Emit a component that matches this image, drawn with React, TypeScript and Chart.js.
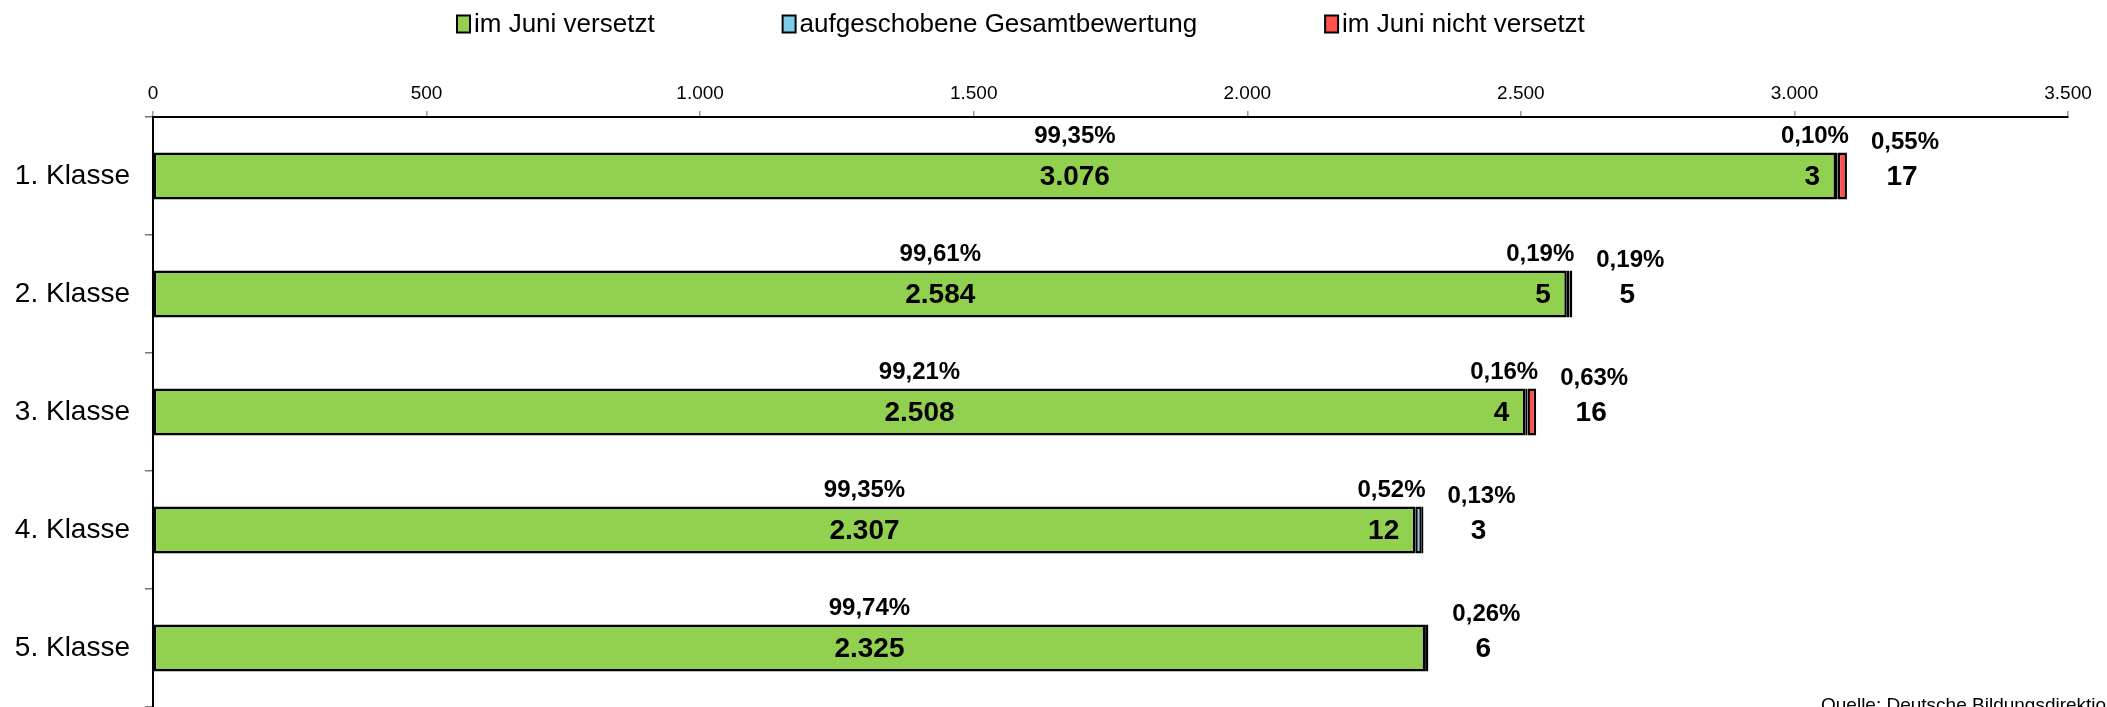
import { useEffect, useRef } from "react";
import { Chart, registerables } from "chart.js";

Chart.register(...registerables);

const categories = ["1. Klasse", "2. Klasse", "3. Klasse", "4. Klasse", "5. Klasse"];
const promoted = [3076, 2584, 2508, 2307, 2325];
const deferred = [3, 5, 4, 12, 0];
const notPromoted = [17, 5, 16, 3, 6];
const seriesNames = ["im Juni versetzt", "aufgeschobene Gesamtbewertung", "im Juni nicht versetzt"];
const xTicks = [0, 500, 1000, 1500, 2000, 2500, 3000, 3500];
const sourceText = "Quelle: Deutsche Bildungsdirektion";

const GREEN = "#92D050";
const BLUE = "#7ECBEA";
const RED = "#FF5050";
const FONT = "'Liberation Sans', Arial, Helvetica, sans-serif";

const fmtNum = (v: number) => String(v).replace(/\B(?=(\d{3})+(?!\d))/g, ".");
const fmtPct = (v: number) => (v * 100).toFixed(2).replace(".", ",") + "%";

const labelPlugin = {
  id: "barLabels",
  afterDatasetsDraw(chart: any) {
    const ctx = chart.ctx;
    const m0 = chart.getDatasetMeta(0);
    const m2 = chart.getDatasetMeta(2);
    ctx.save();
    ctx.fillStyle = "#000";
    ctx.textBaseline = "middle";
    categories.forEach((_, i) => {
      const total = promoted[i] + deferred[i] + notPromoted[i];
      const g = m0.data[i].getProps(["x", "y", "base", "height"], true);
      const r = m2.data[i].getProps(["x"], true);
      const top = g.y - g.height / 2;
      const gEnd = g.x;
      const end = r.x;
      const cx = (g.base + gEnd) / 2 + 80;
      // green
      ctx.textAlign = "center";
      ctx.font = `bold 24px ${FONT}`;
      ctx.fillText(fmtPct(promoted[i] / total), cx, top - 16);
      ctx.font = `bold 28px ${FONT}`;
      ctx.fillText(fmtNum(promoted[i]), cx, g.y + 1);
      // deferred
      if (deferred[i] > 0) {
        ctx.textAlign = "right";
        ctx.font = `bold 24px ${FONT}`;
        ctx.fillText(fmtPct(deferred[i] / total), end + 2, top - 16);
        ctx.font = `bold 28px ${FONT}`;
        ctx.fillText(fmtNum(deferred[i]), gEnd - 16, g.y + 1);
      }
      // not promoted
      if (notPromoted[i] > 0) {
        ctx.textAlign = "center";
        ctx.font = `bold 24px ${FONT}`;
        ctx.fillText(fmtPct(notPromoted[i] / total), end + 58, top - 10);
        ctx.font = `bold 28px ${FONT}`;
        ctx.fillText(fmtNum(notPromoted[i]), end + 55, g.y + 1);
      }
    });
    ctx.restore();
  },
  afterDraw(chart: any) {
    const ctx = chart.ctx;
    ctx.save();
    // legend
    ctx.font = `26px ${FONT}`;
    const boxW = 13, boxH = 17, gapText = 4, gapItem = 128;
    let x = 457;
    const cy = 24;
    chart.data.datasets.forEach((d: any) => {
      const w = boxW + gapText + ctx.measureText(d.label).width;
      ctx.fillStyle = d.backgroundColor;
      ctx.fillRect(x, cy - boxH / 2, boxW, boxH);
      ctx.strokeStyle = "#000";
      ctx.lineWidth = 2;
      ctx.strokeRect(x, cy - boxH / 2, boxW, boxH);
      ctx.fillStyle = "#000";
      ctx.textAlign = "left";
      ctx.textBaseline = "middle";
      ctx.fillText(d.label, x + boxW + gapText, cy + 1);
      x += w + gapItem;
    });
    // source
    ctx.font = `19px ${FONT}`;
    ctx.textBaseline = "alphabetic";
    ctx.fillText(sourceText, 1821, 711);
    ctx.restore();
  },
};

export default function App() {
  const ref = useRef<HTMLCanvasElement | null>(null);
  useEffect(() => {
    if (!ref.current) return;
    const chart = new Chart(ref.current, {
      type: "bar",
      data: {
        labels: categories,
        datasets: [
          { label: seriesNames[0], data: promoted, backgroundColor: GREEN },
          { label: seriesNames[1], data: deferred, backgroundColor: BLUE },
          { label: seriesNames[2], data: notPromoted, backgroundColor: RED },
        ].map((d) => ({
          ...d,
          borderColor: "#000",
          borderWidth: 2.5,
          borderSkipped: false,
          categoryPercentage: 1,
          barPercentage: 0.4,
        })),
      },
      options: {
        indexAxis: "y",
        animation: false,
        responsive: true,
        maintainAspectRatio: false,
        layout: { padding: { top: 60, right: 39, bottom: 0, left: 0 } },
        plugins: {
          legend: { display: false },
          tooltip: { enabled: false },
        },
        scales: {
          x: {
            position: "top",
            stacked: true,
            min: 0,
            max: 3500,
            afterBuildTicks: (s: any) => {
              s.ticks = xTicks.map((v) => ({ value: v }));
            },
            afterFit: (s: any) => {
              s.height = 57;
            },
            ticks: {
              color: "#000",
              font: { family: FONT, size: 19 },
              padding: 6,
              maxRotation: 0,
              callback: (v: any) => fmtNum(Number(v)),
            },
            grid: { drawOnChartArea: false, tickLength: 6, color: "#999", lineWidth: 1.5 },
            border: { color: "#000", width: 2 },
          },
          y: {
            stacked: true,
            afterFit: (s: any) => {
              s.width = 153;
              s.paddingTop = 0;
              s.paddingBottom = 0;
            },
            ticks: {
              color: "#000",
              font: { family: FONT, size: 28 },
              padding: 15,
            },
            grid: { drawOnChartArea: false, tickLength: 8, color: "#777", lineWidth: 1.5, offset: true },
            border: { color: "#000", width: 2 },
          },
        },
      },
      plugins: [labelPlugin],
    } as any);
    return () => chart.destroy();
  }, []);
  return (
    <div style={{ position: "fixed", left: 0, top: 0, width: 2107, height: 707, background: "#fff" }}>
      <canvas ref={ref} />
    </div>
  );
}
